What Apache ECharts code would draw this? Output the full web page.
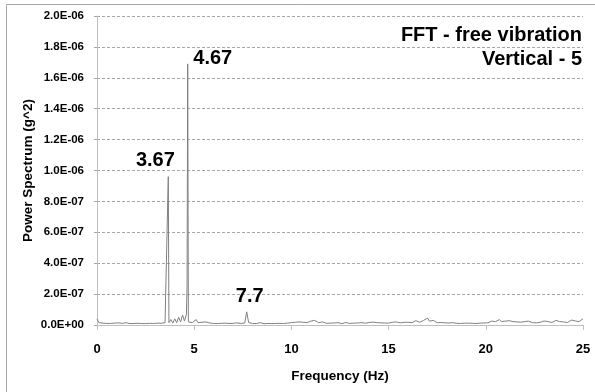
<!DOCTYPE html>
<html><head><meta charset="utf-8">
<script src="https://cdn.jsdelivr.net/npm/echarts@6/dist/echarts.min.js"></script>
<style>html,body{margin:0;padding:0;background:#fff}#c{width:595px;height:392px}</style>
</head><body><div id="c"></div>
<script>
// Frequency grid for the noise floor (Hz)
const noiseStart = 0, noiseStep = 0.1;
// Noise floor values, in units of 1e-8 g^2, one per 0.1 Hz from 0 to 25 Hz
const noiseE8 = [
  4, 1.5, 1, 1.2, 0.8, 1, 1.3, 1, 0.9, 1.2,
  1, 1.4, 0.8, 1, 1.1, 1.5, 1, 0.9, 1.2, 1,
  1.3, 1.1, 0.8, 1, 1.2, 0.9, 1, 1.1, 0.8, 1,
  0.9, 1.2, 1, 1.1, 1.3, 1.5, 2, 1.5, 3.5, 1.2,
  4, 1.5, 5, 2, 6.5, 2.5, 7, 2, 3, 1.5,
  1.2, 3.5, 1.5, 1, 1.8, 1.2, 2, 1, 1.3, 1.1,
  1, 1.2, 0.9, 1.4, 1.1, 1, 1.2, 0.8, 1, 1.3,
  1.1, 1, 1.4, 1.2, 1, 1.5, 1.3, 8.5, 1.6, 1.2,
  1, 1.3, 0.9, 1.1, 1.5, 1, 0.8, 1.2, 1, 1.1,
  0.9, 1.2, 1, 1.4, 1.1, 0.8, 1, 1.3, 1.2, 1,
  1.5, 1.3, 1.8, 1.4, 2, 1.6, 1.8, 2.2, 1.5, 2,
  2.5, 1.8, 3, 2, 1.5, 1.2, 2, 1.4, 1.1, 1.6,
  1.2, 1.8, 1.3, 1, 1.5, 1.2, 0.9, 1.3, 1.6, 1.1,
  1, 1.4, 1.2, 1.8, 1.3, 1.1, 1.5, 2, 1.2, 1.4,
  1.6, 1.2, 1.9, 1.3, 1.5, 2.2, 1.4, 1.8, 1.3, 1.6,
  1.2, 1.5, 1.8, 1.3, 2, 1.6, 1.4, 2.2, 1.7, 2.5,
  1.8, 2.2, 1.5, 2, 2.8, 2.2, 1.8, 2.5, 3, 3.5,
  4.5, 2.5, 2, 3, 1.8, 1.5, 1.3, 1.6, 1.2, 1.4,
  1.1, 1.3, 1, 1.5, 1.2, 1.1, 1.4, 1, 1.3, 1.2,
  1, 1.2, 1.4, 1.1, 1.3, 1, 1.6, 1.2, 1.5, 1.3,
  1.8, 1.4, 2, 2.5, 1.6, 2.2, 2.8, 3.5, 2.2, 3,
  2.5, 2, 2.8, 1.8, 2.2, 1.6, 2, 1.5, 1.8, 1.4,
  2.2, 1.6, 2.5, 1.8, 1.5, 2, 1.4, 2.4, 1.7, 2,
  2.6, 1.8, 2.2, 2.8, 1.6, 2.4, 3, 1.8, 2.2, 2.6,
  2, 2.8, 1.6, 2.4, 3.2, 2, 2.6, 3.5, 2.2, 2.8,
  4
];
// Resonance peaks [frequency Hz, power g^2]
const peakFreqs = [3.667, 4.633, 4.667];
const peakValues = [9.6e-7, 2.5e-7, 1.69e-6];
// Peak annotations (anchored at data coordinates)
const annotFreqs = [3.67, 4.67, 7.7];
const annotValues = [9.6e-7, 1.69e-6, 8.5e-8];
const annotTexts = ['3.67', '4.67', '7.7'];
const annotOffsets = [[-13, -16], [25, -5], [3, -15]];
// Axis ticks
const yTicksMax = 2e-6, yTickStep = 2e-7;
const xTicksMax = 25, xTickStep = 5;

const pts = noiseE8.map((v, i) => [+(noiseStart + i * noiseStep).toFixed(3), v * 1e-8]);
peakFreqs.forEach((f, i) => pts.push([f, peakValues[i]]));
pts.sort((a, b) => a[0] - b[0]);

function fmtE(v) {
  const s = (+v).toExponential(1).toUpperCase();
  const m = s.match(/^(-?[\d.]+)E([+-])(\d+)$/);
  return m[1] + 'E' + m[2] + (m[3].length < 2 ? '0' + m[3] : m[3]);
}

const FONT = 'Liberation Sans';
const chart = echarts.init(document.getElementById('c'), null, {renderer: 'canvas'});
chart.setOption({
  animation: false,
  backgroundColor: '#fff',
  grid: {left: 97, right: 12, top: 16, bottom: 67},
  xAxis: {
    type: 'value', min: 0, max: xTicksMax, interval: xTickStep,
    name: 'Frequency (Hz)', nameLocation: 'middle', nameGap: 44, nameMoveOverlap: false,
    nameTextStyle: {fontFamily: FONT, fontWeight: 'bold', fontSize: 13.5, color: '#000'},
    axisLine: {show: true, lineStyle: {color: '#bfbfbf', width: 1}},
    axisTick: {show: true, length: 5, lineStyle: {color: '#bfbfbf'}},
    axisLabel: {fontFamily: FONT, fontWeight: 'bold', fontSize: 13, color: '#000', margin: 18},
    splitLine: {show: false}
  },
  yAxis: {
    type: 'value', min: 0, max: yTicksMax, interval: yTickStep,
    name: 'Power Spectrum (g^2)', nameLocation: 'middle', nameGap: 62, nameMoveOverlap: false,
    nameTextStyle: {fontFamily: FONT, fontWeight: 'bold', fontSize: 13.5, color: '#000'},
    axisLine: {show: true, lineStyle: {color: '#bfbfbf', width: 1}},
    axisTick: {show: true, length: 5, lineStyle: {color: '#a6a6a6', type: [3, 2]}},
    axisLabel: {fontFamily: FONT, fontWeight: 'bold', fontSize: 11.5, color: '#000', margin: 13, formatter: fmtE},
    splitLine: {show: true, lineStyle: {color: '#a6a6a6', type: [3, 2], width: 1}}
  },
  series: [
    {
      type: 'line', data: pts, symbol: 'none', silent: true,
      lineStyle: {color: '#808080', width: 1}
    }
  ]
});
// Peak annotations placed from data coordinates through the chart's scales
const annots = annotFreqs.map((f, i) => {
  const p = chart.convertToPixel({gridIndex: 0}, [f, annotValues[i]]);
  return {type: 'text', x: p[0] + annotOffsets[i][0], y: p[1] + annotOffsets[i][1],
    style: {text: annotTexts[i], font: 'bold 20px ' + FONT, fill: '#000', textAlign: 'center', textVerticalAlign: 'middle'}};
});
chart.setOption({graphic: [
  {type: 'rect', shape: {x: 6.5, y: 4.5, width: 600, height: 400}, style: {fill: 'none', stroke: '#a6a6a6', lineWidth: 1}, silent: true},
  {type: 'text', right: 13, top: 23, style: {text: 'FFT - free vibration\nVertical - 5', font: 'bold 20px ' + FONT, fill: '#000', textAlign: 'right', lineHeight: 24}}
].concat(annots)});
</script></body></html>
